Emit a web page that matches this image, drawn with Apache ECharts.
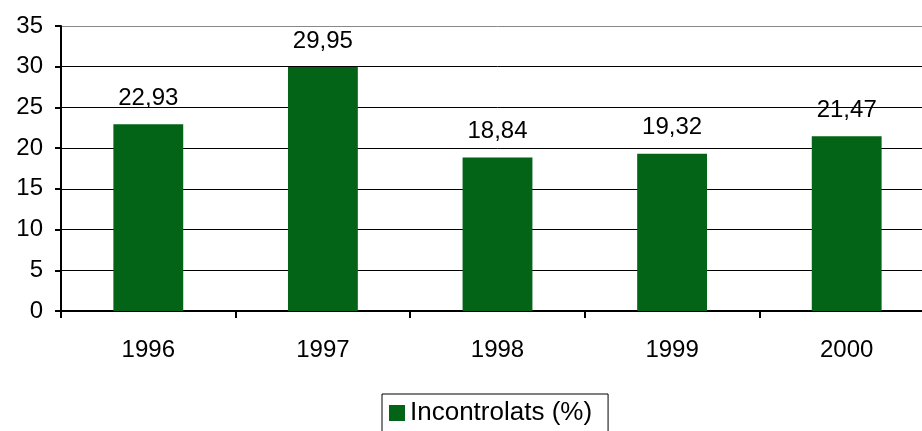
<!DOCTYPE html>
<html>
<head>
<meta charset="utf-8">
<script src="https://cdn.jsdelivr.net/npm/echarts@6/dist/echarts.min.js"></script>
<style>
  html, body { margin: 0; padding: 0; background: #fff; overflow: hidden; width: 922px; height: 431px; }
  /* plot area runs past the right edge of the picture, as in the original */
  #chart { width: 934px; height: 431px; }
</style>
</head>
<body>
<div id="chart"></div>
<script>
// years on the x axis
const years = ["1996", "1997", "1998", "1999", "2000"];
// share of uncontrolled (%)
const incontrolats = [22.93, 29.95, 18.84, 19.32, 21.47];

const FONT = "'Liberation Sans', Arial, sans-serif";

const chart = echarts.init(document.getElementById("chart"), null, { renderer: "canvas" });

chart.setOption({
  animation: false,
  textStyle: { fontFamily: FONT },
  grid: { left: 61, top: 26, right: 0, height: 285, containLabel: false },
  legend: {
    data: ["Incontrolats (%)"],
    top: 394,
    left: 382,
    itemWidth: 16,
    itemHeight: 16,
    itemGap: 8,
    padding: [6, 16, 8, 7],
    borderColor: "#000",
    borderWidth: 1,
    textStyle: { fontFamily: FONT, fontSize: 26, color: "#000" },
    icon: "rect"
  },
  xAxis: {
    type: "category",
    data: years,
    axisLine: { lineStyle: { color: "#000", width: 2 } },
    axisTick: { show: true, length: 7, lineStyle: { color: "#000", width: 2 } },
    axisLabel: { fontFamily: FONT, fontSize: 24, color: "#000", margin: 27 }
  },
  yAxis: {
    type: "value",
    min: 0,
    max: 35,
    interval: 5,
    axisLine: { show: true, lineStyle: { color: "#000", width: 2 } },
    axisTick: { show: true, length: 6, lineStyle: { color: "#000", width: 2 } },
    axisLabel: { fontFamily: FONT, fontSize: 24, color: "#000", margin: 18 },
    splitLine: { show: true, lineStyle: { color: ["#000", "#000", "#000", "#000", "#000", "#000", "#000", "#888"], width: 1 } }
  },
  series: [{
    name: "Incontrolats (%)",
    type: "bar",
    data: incontrolats,
    barWidth: "40%",
    itemStyle: { color: "#036316" },
    label: {
      show: true,
      position: "top",
      distance: 14,
      fontFamily: FONT,
      fontSize: 24,
      color: "#000",
      formatter: p => p.value.toFixed(2).replace(".", ",")
    }
  }]
});
</script>
</body>
</html>
